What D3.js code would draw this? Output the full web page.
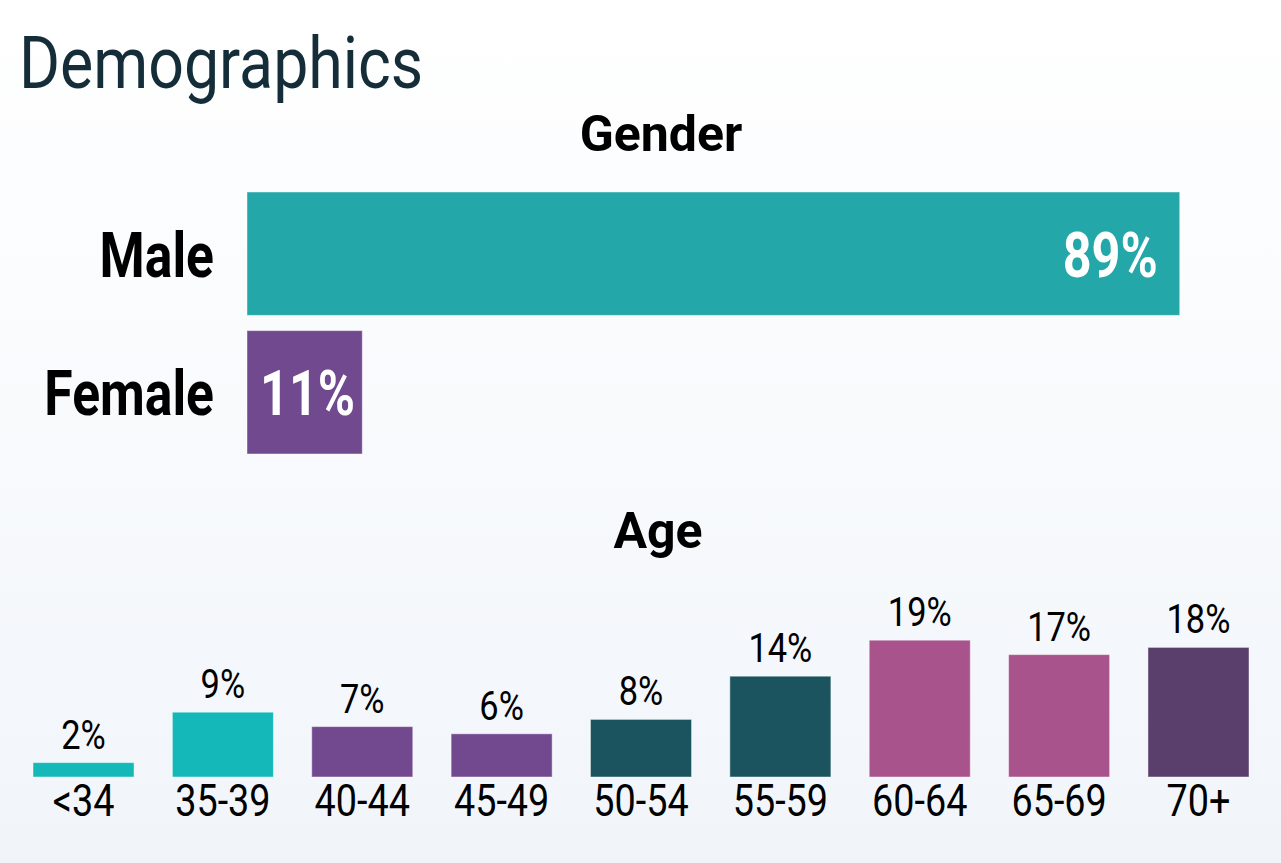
<!DOCTYPE html>
<html>
<head>
<meta charset="utf-8">
<script src="https://cdn.jsdelivr.net/npm/d3@7"></script>
<style>
  html, body { margin: 0; padding: 0; }
  body { width: 1281px; height: 863px; overflow: hidden; }
  svg { display: block; }
  text { font-family: Roboto, "Noto Sans", sans-serif; }
</style>
</head>
<body>
<svg id="chart" width="1281" height="863"></svg>
<script>
// ---- Data ----
const titleText = "Demographics";
const genderTitle = "Gender";
const ageTitle = "Age";

const genderCategories = ["Male", "Female"];
const genderValues = [89, 11];
const genderColors = ["#23a7a9", "#71498f"];

const ageCategories = ["<34", "35-39", "40-44", "45-49", "50-54", "55-59", "60-64", "65-69", "70+"];
const ageValues = [2, 9, 7, 6, 8, 14, 19, 17, 18];
const ageColors = ["#14b8b9", "#14b8b9", "#72498f", "#72498f", "#1b545f", "#1b545f", "#a9538c", "#a9538c", "#5a3e6c"];

// ---- Setup ----
const W = 1281, H = 863;
const svg = d3.select("#chart");

const defs = svg.append("defs");
const grad = defs.append("linearGradient").attr("id", "bg").attr("x1", 0).attr("y1", 0).attr("x2", 0).attr("y2", 1);
grad.append("stop").attr("offset", "0%").attr("stop-color", "#ffffff");
grad.append("stop").attr("offset", "100%").attr("stop-color", "#f1f5fa");
svg.append("rect").attr("width", W).attr("height", H).attr("fill", "url(#bg)");

// condensed text helper (Roboto Condensed unavailable -> horizontal scale)
function ctext(parent, x, y, str, opts) {
  const k = opts.k || 1;
  return parent.append("text")
    .attr("transform", `translate(${x},${y}) scale(${k},1)`)
    .attr("text-anchor", opts.anchor || "start")
    .attr("font-size", opts.size)
    .attr("font-weight", opts.weight || 400)
    .attr("fill", opts.fill || "#000")
    .text(str);
}

// Title
ctext(svg, 19, 88, titleText, { size: 72, k: 0.87, fill: "#142d38" });

// ---- Gender chart ----
const gx = d3.scaleLinear().domain([0, 100]).range([247, 247 + 1048]);
const gy = d3.scaleBand().domain(genderCategories).range([192, 454]).paddingInner(0.11).paddingOuter(0);

ctext(svg, 661, 151, genderTitle, { size: 50, weight: 700, anchor: "middle" });

const gG = svg.append("g");
gG.selectAll("rect").data(genderCategories).join("rect")
  .attr("x", gx(0))
  .attr("y", d => gy(d))
  .attr("width", (d, i) => gx(genderValues[i]) - gx(0))
  .attr("height", gy.bandwidth())
  .attr("fill", (d, i) => genderColors[i])
  .attr("stroke", "rgba(255,255,255,0.45)")
  .attr("stroke-width", 1);

genderCategories.forEach((d, i) => {
  const yb = gy(d) + gy.bandwidth() / 2 + 23;
  ctext(gG, 214, yb, d, { size: 63, weight: 700, k: 0.82, anchor: "end" });
  const v = genderValues[i];
  if (v > 20) {
    ctext(gG, gx(v) - 22, yb, v + "%", { size: 63, weight: 700, k: 0.8, anchor: "end", fill: "#fff" });
  } else {
    ctext(gG, gx(0) + 13, yb, v + "%", { size: 63, weight: 700, k: 0.8, anchor: "start", fill: "#fff" });
  }
});

// ---- Age chart ----
ctext(svg, 658, 548, ageTitle, { size: 50, weight: 700, anchor: "middle" });

const ax = d3.scaleBand().domain(ageCategories).range([33, 1249]).paddingInner(0.275).paddingOuter(0);
const ay = d3.scaleLinear().domain([0, 100]).range([777, 57]);

const aG = svg.append("g");
aG.selectAll("rect").data(ageCategories).join("rect")
  .attr("x", d => ax(d))
  .attr("y", (d, i) => ay(ageValues[i]))
  .attr("width", ax.bandwidth())
  .attr("height", (d, i) => ay(0) - ay(ageValues[i]))
  .attr("fill", (d, i) => ageColors[i])
  .attr("stroke", "rgba(255,255,255,0.45)")
  .attr("stroke-width", 1);

ageCategories.forEach((d, i) => {
  const cx = ax(d) + ax.bandwidth() / 2;
  ctext(aG, cx, ay(ageValues[i]) - 14, ageValues[i] + "%", { size: 41, k: 0.84, anchor: "middle" });
  ctext(aG, cx, 816, d, { size: 45, k: 0.84, anchor: "middle" });
});
</script>
</body>
</html>
